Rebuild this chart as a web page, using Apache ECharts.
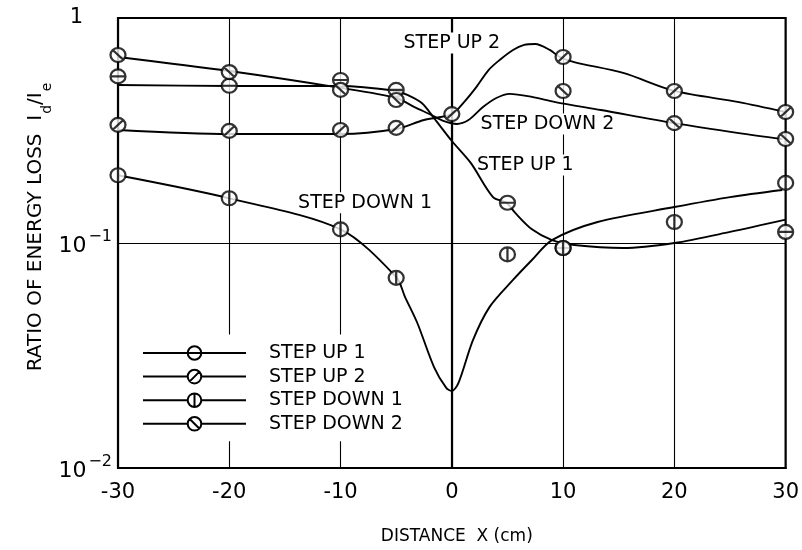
<!DOCTYPE html>
<html>
<head>
<meta charset="utf-8">
<script src="https://cdn.jsdelivr.net/npm/echarts@6/dist/echarts.min.js"></script>
<style>
  html, body { margin: 0; padding: 0; background: #fff; }
  #chart { width: 802px; height: 550px; }
</style>
</head>
<body>
<div id="chart"></div>
<script>
const FONT = '"DejaVu Sans", sans-serif';

// x axis: distance in cm
const xTicks = [-30, -20, -10, 0, 10, 20, 30];
// y axis: decades of the energy-loss ratio Id/Ie
const yTicks = [0.01, 0.1, 1];

const seriesNames = ['STEP UP 1', 'STEP UP 2', 'STEP DOWN 1', 'STEP DOWN 2'];

// measured points [x (cm), Id/Ie]
const stepUp1Points = [[-30, 0.55], [-20, 0.50], [-10, 0.53], [-5, 0.479], [5, 0.151], [10, 0.095], [30, 0.112]];
const stepUp2Points = [[-30, 0.335], [-20, 0.315], [-10, 0.318], [-5, 0.325], [0, 0.374], [10, 0.671], [20, 0.474], [30, 0.382]];
const stepDown1Points = [[-30, 0.200], [-20, 0.158], [-10, 0.115], [-5, 0.070], [5, 0.089], [10, 0.095], [20, 0.124], [30, 0.185]];
const stepDown2Points = [[-30, 0.685], [-20, 0.575], [-10, 0.479], [-5, 0.432], [10, 0.474], [20, 0.341], [30, 0.290]];

// faired curves through the measurements
const stepUp1Curve = [[-30, 0.504], [-20, 0.499], [-10, 0.499], [-5, 0.474], [-4, 0.455], [-2.7, 0.419], [-1.6, 0.359], [0, 0.284], [1.7, 0.227], [3.7, 0.160], [4.9, 0.151], [5.7, 0.136], [7.2, 0.115], [9, 0.103], [11, 0.098], [15.4, 0.095], [20, 0.100], [25, 0.112], [30, 0.127]];
const stepUp2Curve = [[-30, 0.318], [-20, 0.305], [-10, 0.305], [-5, 0.321], [-2.5, 0.352], [0, 0.374], [1.1, 0.423], [2.2, 0.493], [3.3, 0.587], [4.3, 0.651], [5.5, 0.721], [6.5, 0.759], [7.5, 0.766], [8.8, 0.721], [9.7, 0.671], [11, 0.637], [15.4, 0.570], [20, 0.474], [25.8, 0.423], [30, 0.382]];
const stepDown1Curve = [[-30, 0.200], [-20, 0.158], [-10, 0.115], [-5, 0.0706], [-4.2, 0.0575], [-3.1, 0.0441], [-1.6, 0.0281], [-0.5, 0.0227], [0, 0.022], [0.6, 0.0239], [1.9, 0.037], [3.4, 0.052], [5.5, 0.0685], [7.2, 0.084], [9, 0.103], [13.1, 0.124], [20, 0.1445], [25, 0.160], [29.7, 0.172]];
const stepDown2Curve = [[-30, 0.671], [-20, 0.581], [-10, 0.489], [-5, 0.441], [-3.35, 0.402], [-1.85, 0.371], [-0.7, 0.348], [0.45, 0.338], [1.5, 0.352], [2.8, 0.402], [4, 0.441], [5.2, 0.460], [7.2, 0.446], [9.3, 0.423], [13.4, 0.390], [20, 0.341], [25.8, 0.308], [29.7, 0.290]];

// curve labels placed in data coordinates
const curveLabels = ['STEP UP 2', 'STEP DOWN 2', 'STEP UP 1', 'STEP DOWN 1'];
const curveLabelX = [0, 8.6, 6.6, -7.8];
const curveLabelY = [0.774, 0.338, 0.222, 0.151];

// open circle with a bar: horizontal, slash, vertical, backslash
const RING = 'M20 10C20 15.52 15.52 20 10 20C4.48 20 0 15.52 0 10C0 4.48 4.48 0 10 0C15.52 0 20 4.48 20 10Z';
const markerPaths = [
  'path://' + RING + 'M0 10L20 10',
  'path://' + RING + 'M3 17L17 3',
  'path://' + RING + 'M10 0L10 20',
  'path://' + RING + 'M3 3L17 17'
];

const pointSets = [stepUp1Points, stepUp2Points, stepDown1Points, stepDown2Points];
const curveSets = [stepUp1Curve, stepUp2Curve, stepDown1Curve, stepDown2Curve];

const markerStyle = { color: '#fff', borderColor: '#000', borderWidth: 2.2 };
const MARK_SIZE = [15, 14];

const chart = echarts.init(document.getElementById('chart'), null, { renderer: 'canvas' });

const series = [];

// curve labels first so their white boxes sit under the curves but over the grid
series.push({
  type: 'custom',
  name: 'labels',
  silent: true,
  data: curveLabels.map((t, i) => [curveLabelX[i], curveLabelY[i]]),
  renderItem: function (params, api) {
    const p = api.coord([api.value(0), api.value(1)]);
    return {
      type: 'text',
      x: p[0],
      y: p[1],
      style: {
        text: curveLabels[params.dataIndex],
        fill: '#000',
        font: '19px ' + FONT,
        align: 'center',
        verticalAlign: 'middle',
        backgroundColor: '#fff',
        padding: [1, 2]
      }
    };
  }
});

curveSets.forEach((c, i) => {
  series.push({
    type: 'line',
    name: seriesNames[i],
    data: c,
    smooth: 0.3,
    showSymbol: false,
    symbol: markerPaths[i],
    symbolSize: MARK_SIZE,
    itemStyle: markerStyle,
    lineStyle: { color: '#000', width: 1.9 },
    silent: true,
    z: 3
  });
});

pointSets.forEach((p, i) => {
  series.push({
    type: 'scatter',
    name: seriesNames[i] + ' data',
    data: p,
    symbol: markerPaths[i],
    symbolSize: MARK_SIZE,
    itemStyle: markerStyle,
    silent: true,
    z: 4
  });
});

const option = {
  animation: false,
  backgroundColor: '#fff',
  grid: {
    left: 118, right: 5, top: 18, bottom: 82,
    show: true, borderColor: '#000', borderWidth: 2.2, backgroundColor: 'transparent'
  },
  xAxis: {
    type: 'value',
    min: xTicks[0],
    max: xTicks[xTicks.length - 1],
    interval: 10,
    axisLine: { show: true, lineStyle: { color: '#000', width: 2.2 } },
    axisTick: { show: false },
    splitLine: { show: true, lineStyle: { color: '#000', width: 1.1 } },
    axisLabel: { color: '#000', fontFamily: FONT, fontSize: 21, margin: 14 },
    name: 'DISTANCE  X (cm)',
    nameLocation: 'middle',
    nameGap: 60,
    nameTextStyle: { color: '#000', fontFamily: FONT, fontSize: 17, padding: [0, 0, 0, 10] }
  },
  yAxis: {
    type: 'log',
    logBase: 10,
    min: yTicks[0],
    max: yTicks[yTicks.length - 1],
    axisLine: { show: true, lineStyle: { color: '#000', width: 2.2 } },
    axisTick: { show: false },
    minorTick: { show: false },
    splitLine: { show: true, lineStyle: { color: '#000', width: 1.1 } },
    axisLabel: {
      margin: 6,
      formatter: function (v) {
        const e = Math.round(Math.log10(v));
        if (e === 0) return '{one|1}';
        return '{base|10}{sup|\u2212' + (-e) + '}';
      },
      rich: {
        one: { color: '#000', fontFamily: FONT, fontSize: 21, padding: [0, 29, 0, 0] },
        base: { color: '#000', fontFamily: FONT, fontSize: 22, lineHeight: 28, verticalAlign: 'bottom' },
        sup: { color: '#000', fontFamily: FONT, fontSize: 16, lineHeight: 16, verticalAlign: 'top', padding: [0, 0, 12, 2] }
      }
    }
  },
  legend: {
    data: seriesNames,
    orient: 'vertical',
    left: 137,
    top: 334.5,
    padding: [9, 8, 8, 5],
    backgroundColor: '#fff',
    itemWidth: 103,
    itemHeight: 17,
    itemGap: 4.6,
    selectedMode: false,
    textStyle: { color: '#000', fontFamily: FONT, fontSize: 19, padding: [0, 0, 0, 18] }
  },
  graphic: [{
    type: 'text',
    x: 40,
    y: 227,
    rotation: Math.PI / 2,
    silent: true,
    style: {
      text: '{m|RATIO OF ENERGY LOSS  I}{s|d}{m|/I}{s|e}',
      align: 'center',
      verticalAlign: 'middle',
      rich: {
        m: { fill: '#000', fontFamily: FONT, fontSize: 20, lineHeight: 28, verticalAlign: 'top' },
        s: { fill: '#000', fontFamily: FONT, fontSize: 14, lineHeight: 14, verticalAlign: 'bottom', padding: [12, 0, 0, 1] }
      }
    }
  }],
  series: series
};

chart.setOption(option);
</script>
</body>
</html>
